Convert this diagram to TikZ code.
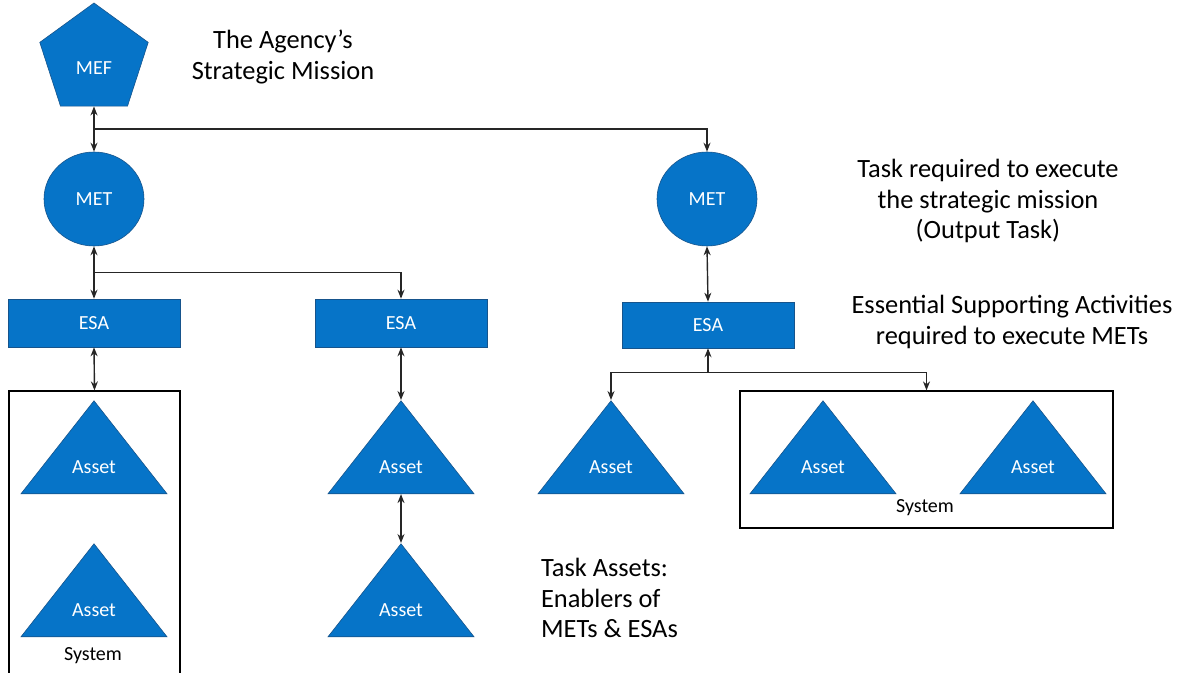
\documentclass[tikz,border=0pt]{standalone}
\usepackage{fontspec}
\setmainfont{Carlito}
\usepackage{tikz}
\usetikzlibrary{positioning,calc,shapes.geometric,arrows.meta}
\definecolor{MEFBlue}{RGB}{6,116,200}
\definecolor{MEFEdge}{RGB}{22,84,140}
\tikzset{
    shapebase/.style={fill=MEFBlue, draw=MEFEdge, line width=0.3pt, text=white, font=\fontsize{10}{12}\selectfont, inner sep=0pt},
    pentnode/.style={shapebase, regular polygon, regular polygon sides=5, minimum size=57pt},
    metnode/.style={shapebase, ellipse, minimum width=50pt, minimum height=47pt},
    esanode/.style={shapebase, rectangle, minimum width=86pt, minimum height=24pt},
    assetnode/.style={shapebase, isosceles triangle, isosceles triangle stretches, shape border rotate=90, minimum width=73pt, minimum height=46.5pt},
    sysbox/.style={draw=black, line width=0.6pt, inner sep=0pt},
    systext/.style={font=\fontsize{10}{12}\selectfont},
    note/.style={font=\fontsize{13.2}{15.2}\selectfont, align=center},
    link/.style={{Stealth[length=4.5pt,width=3.5pt]}-{Stealth[length=4.5pt,width=3.5pt]}, line width=0.7pt, black!85},
    feed/.style={-{Stealth[length=4.5pt,width=3.5pt]}, line width=0.7pt, black!85}
}
\begin{document}
\begin{tikzpicture}[x=0.5pt, y=-0.5pt]
    \clip (0,0) rectangle (1183,673);

    % top level
    \node[pentnode, label={[white, font=\fontsize{10}{12}\selectfont, yshift=-4pt]center:MEF}] (mef) at (94,60) {};
    \node[note] (mission) at (283,57) {The Agency’s\\Strategic Mission};

    % tasks
    \node[metnode] (metA) at (94,199) {MET};
    \node[metnode] (metB) at (707,199) {MET};
    \node[note] (taskreq) at (988,201) {Task required to execute\\the strategic mission\\(Output Task)};

    % supporting activities
    \node[esanode] (esaA) at (94,323) {ESA};
    \node[esanode] (esaB) at (401,323) {ESA};
    \node[esanode, minimum height=23pt] (esaC) at (708,325) {ESA};
    \node[note] (esareq) at (1012,322) {Essential Supporting Activities\\required to execute METs};

    % systems
    \node[sysbox, minimum width=85.5pt, minimum height=155pt] (sysA) at (94.5,546) {};
    \node[systext] (sysAlbl) at (93,656) {System};
    \node[sysbox, minimum width=186.5pt, minimum height=68.5pt] (sysB) at (926.5,459.5) {};
    \node[systext] (sysBlbl) at (925,508) {System};

    % assets
    \node[assetnode, anchor=apex] (asA1) at (94,400) {Asset};
    \node[assetnode, anchor=apex] (asA2) at (94,543) {Asset};
    \node[assetnode, anchor=apex] (asB1) at (401,400) {Asset};
    \node[assetnode, anchor=apex] (asB2) at (401,543) {Asset};
    \node[assetnode, anchor=apex] (asC) at (611,400) {Asset};
    \node[assetnode, anchor=apex] (asD1) at (823,400) {Asset};
    \node[assetnode, anchor=apex] (asD2) at (1033,400) {Asset};
    \node[note, align=left, anchor=west] (enablers) at (534,598) {Task Assets:\\Enablers of\\METs \& ESAs};

    % connectors
    \draw[link] (mef.south) -- (metA.north);
    \coordinate (j1) at ($(mef.south)!0.5!(metA.north)$);
    \draw[feed] (j1) -| (metB.north);

    \draw[link] (metA.south) -- (esaA.north);
    \coordinate (j2) at ($(metA.south)!0.5!(esaA.north)$);
    \draw[feed] (j2) -| (esaB.north);
    \draw[link] (esaA.south) -- (sysA.north);
    \draw[link] (esaB.south) -- (asB1.apex);
    \draw[link] (asB1.lower side) -- (asB2.apex);

    \draw[link] (metB.south) -- (esaC.north);
    \coordinate (j3) at ($(esaC.south)+(0,24)$);
    \draw[feed] (j3) -- (esaC.south);
    \draw[feed] (j3) -| (asC.apex);
    \draw[feed] (j3) -| (sysB.north);
\end{tikzpicture}
\end{document}
